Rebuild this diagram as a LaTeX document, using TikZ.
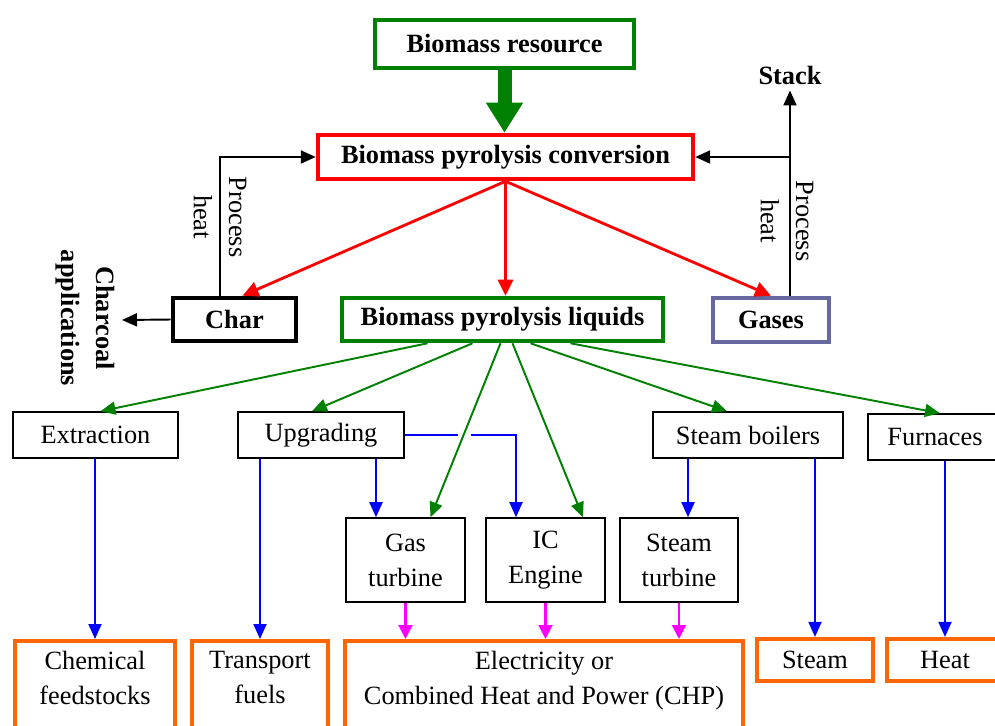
\documentclass[tikz,border=0pt]{standalone}
\usepackage{fontspec}
\setmainfont{Liberation Serif}
\usetikzlibrary{arrows.meta}
\definecolor{darkgreen}{RGB}{0,128,0}
\definecolor{boxorange}{RGB}{255,102,0}
\definecolor{gasgrey}{RGB}{104,104,160}
\definecolor{pureblue}{RGB}{0,0,255}
\definecolor{purered}{RGB}{255,0,0}
\definecolor{puremagenta}{RGB}{255,0,255}

\begin{document}
\begin{tikzpicture}[x=0.02cm,y=-0.02cm,
  font=\fontsize{15}{20}\selectfont,
  bigbox/.style={draw,line width=2.6pt,font=\fontsize{15}{20}\selectfont\bfseries,inner sep=0pt},
  thinbox/.style={draw,line width=0.9pt,inner sep=0pt,align=center},
  endbox/.style={draw=boxorange,line width=2.4pt,inner xsep=0pt,inner ysep=0.2cm,align=center,anchor=north},
  redarr/.style={purered,line width=1.6pt,-{Triangle[length=0.32cm,width=0.3cm]}},
  grnarr/.style={darkgreen,line width=1.1pt,-{Triangle[length=0.3cm,width=0.26cm]}},
  bluarr/.style={pureblue,line width=1.1pt,-{Triangle[length=0.3cm,width=0.26cm]}},
  magarr/.style={puremagenta,line width=1.2pt,-{Triangle[length=0.28cm,width=0.28cm]}},
  blkarr/.style={black,line width=1.1pt,-{Triangle[length=0.3cm,width=0.26cm]}}]
\useasboundingbox (0,0) rectangle (995,725);
\clip (0,0) rectangle (995,725);

% main chain
\node[bigbox,draw=darkgreen,minimum width=5.18cm,minimum height=0.96cm] (resource) at (504.5,44) {Biomass resource};
\node[bigbox,draw=purered,minimum width=7.5cm,minimum height=0.88cm] (conversion) at (505.5,157) {Biomass pyrolysis conversion};
\node[bigbox,minimum width=2.46cm,minimum height=0.86cm] (char) at (234.5,319.5) {Char};
\node[bigbox,draw=darkgreen,minimum width=6.42cm,minimum height=0.86cm] (liquids) at (502.5,319.5) {Biomass pyrolysis liquids};
\node[bigbox,draw=gasgrey,minimum width=2.32cm,minimum height=0.88cm] (gases) at (771,320) {Gases};

\node[font=\fontsize{15}{20}\selectfont\bfseries] (stack) at (790,75) {Stack};
\node[rotate=-90,align=center] (heatleft) at (220,217) {Process\\heat};
\node[rotate=-90,align=center] (heatright) at (787,221) {Process\\heat};
\node[rotate=-90,align=center,font=\fontsize{15}{20}\selectfont\bfseries] (charcoal) at (85,318) {Charcoal\\applications};
\coordinate (charcoalend) at (122,320);

% uses
\node[thinbox,minimum width=3.3cm,minimum height=0.92cm] (extraction) at (95.5,435) {Extraction};
\node[thinbox,minimum width=3.32cm,minimum height=0.92cm] (upgrading) at (321,435) {Upgrading};
\node[thinbox,minimum width=3.8cm,minimum height=0.92cm] (boilers) at (748,435) {Steam boilers};
\node[thinbox,minimum width=2.68cm,minimum height=0.92cm] (furnaces) at (935,437) {Furnaces};
\node[thinbox,minimum width=2.38cm,minimum height=1.68cm] (gasturbine) at (405.5,560) {Gas\\turbine};
\node[thinbox,minimum width=2.38cm,minimum height=1.68cm] (icengine) at (545.5,560) {IC\\Engine};
\node[thinbox,minimum width=2.36cm,minimum height=1.68cm] (steamturbine) at (679,560) {Steam\\turbine};

% products
\node[endbox,minimum width=3.2cm,text depth=1.5cm] (chemicals) at (95,639) {Chemical\\feedstocks};
\node[endbox,minimum width=2.72cm,text depth=1.5cm] (transport) at (260,639) {Transport\\fuels};
\node[endbox,minimum width=7.96cm,text depth=1.5cm] (electricity) at (544,639) {Electricity or\\Combined Heat and Power (CHP)};
\node[endbox,minimum width=2.32cm,minimum height=0.84cm,inner ysep=0pt,anchor=center] (steam) at (815,660) {Steam};
\node[endbox,minimum width=2.32cm,minimum height=0.84cm,inner ysep=0pt,anchor=center] (heat) at (945,660) {Heat};

% conversion
\draw[darkgreen,line width=0.28cm,-{Triangle[length=0.6cm,width=0.7cm]}] (resource.south) -- (resource.south |- conversion.north);
\draw[redarr] (conversion.south) -- ([xshift=0.16cm]char.north);
\draw[redarr] (conversion.south) -- (conversion.south |- liquids.north);
\draw[redarr] (conversion.south) -- (gases.north);

% process heat
\draw[blkarr] ([xshift=-0.29cm]char.north) |- (conversion.west);
\draw[blkarr] ([xshift=0.38cm]gases.north) -- ([xshift=0.38cm]gases.north |- stack.south);
\draw[blkarr] ([xshift=0.38cm]gases.north |- conversion.east) -- (conversion.east);
\draw[blkarr] (char.west) -- (charcoalend);

% liquids to uses
\draw[grnarr] ([xshift=-1.5cm]liquids.south) -- ([xshift=0.1cm]extraction.north);
\draw[grnarr] ([xshift=-0.6cm]liquids.south) -- ([xshift=-0.18cm]upgrading.north);
\draw[grnarr] ([xshift=-0.04cm]liquids.south) -- ([xshift=0.5cm]gasturbine.north);
\draw[grnarr] ([xshift=0.2cm]liquids.south) -- ([xshift=0.75cm]icengine.north);
\draw[grnarr] ([xshift=0.56cm]liquids.south) -- ([xshift=-0.42cm]boilers.north);
\draw[grnarr] ([xshift=1.36cm]liquids.south) -- ([xshift=0.1cm]furnaces.north);

% uses to products
\draw[bluarr] (extraction.south -| chemicals.north) -- (chemicals.north);
\draw[bluarr] (upgrading.south -| transport.north) -- (transport.north);
\draw[bluarr] ([xshift=1.1cm]upgrading.south) -- ([xshift=1.1cm]upgrading.south |- gasturbine.north);
\draw[pureblue,line width=1.1pt] (upgrading.east) -- ++(53,0);
\draw[bluarr] ([xshift=1.32cm]upgrading.east) -| ([xshift=-0.59cm]icengine.north);
\draw[bluarr] ([xshift=-1.2cm]boilers.south) -- ([xshift=-1.2cm]boilers.south |- steamturbine.north);
\draw[bluarr] (boilers.south -| steam.north) -- (steam.north);
\draw[bluarr] (furnaces.south -| heat.north) -- (heat.north);
\draw[magarr] (gasturbine.south) -- (gasturbine.south |- electricity.north);
\draw[magarr] (icengine.south) -- (icengine.south |- electricity.north);
\draw[magarr] (steamturbine.south) -- (steamturbine.south |- electricity.north);

\end{tikzpicture}
\end{document}
